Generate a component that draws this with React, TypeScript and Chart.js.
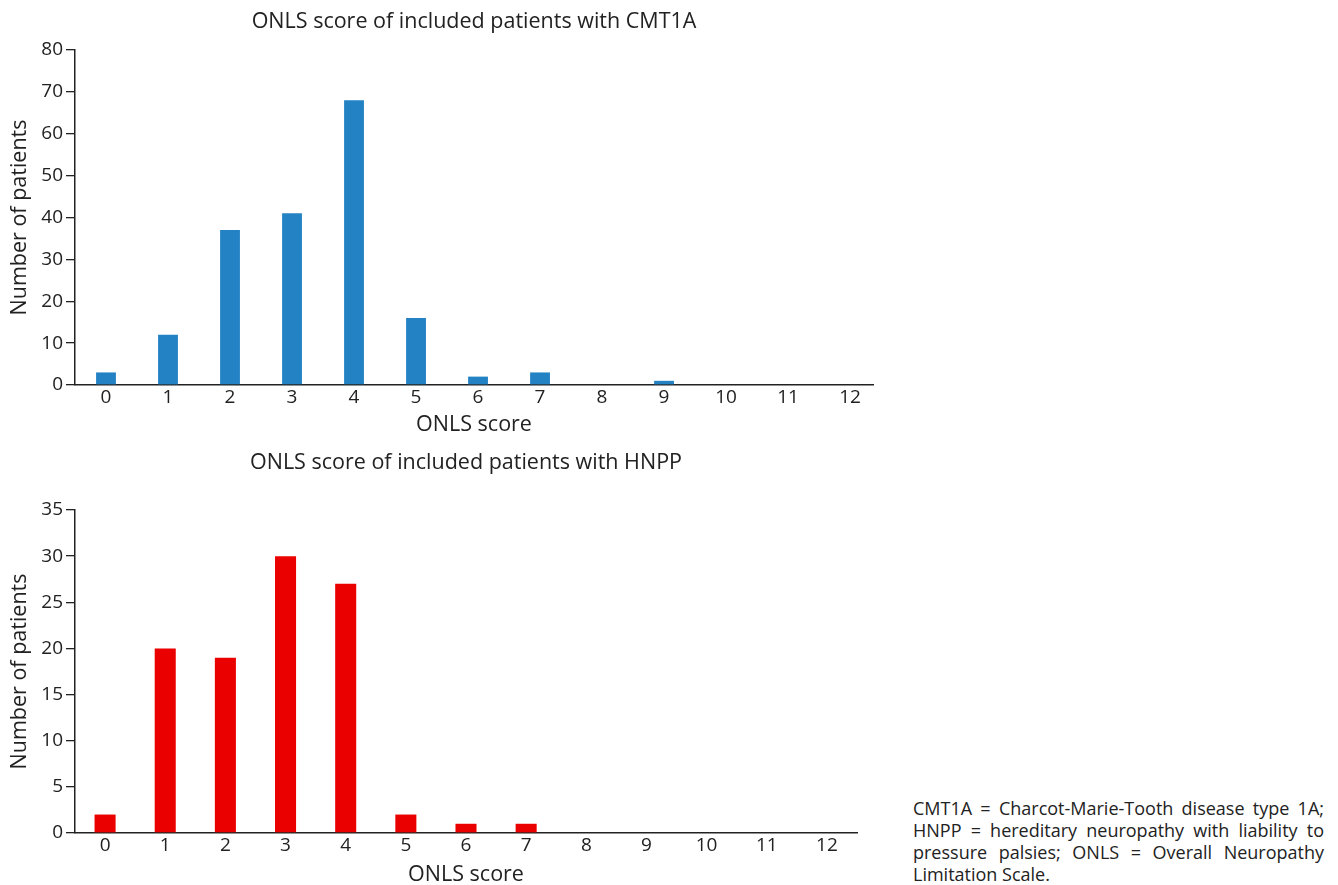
import React, { useEffect, useRef } from "react";
import { Chart, registerables } from "chart.js";

Chart.register(...registerables);

const scoreLabels = ["0", "1", "2", "3", "4", "5", "6", "7", "8", "9", "10", "11", "12"];
const cmt1aCounts = [3, 12, 37, 41, 68, 16, 2, 3, 0, 1, 0, 0, 0];
const hnppCounts = [2, 20, 19, 30, 27, 2, 1, 1, 0, 0, 0, 0, 0];

const cmt1aTitle = "ONLS score of included patients with CMT1A";
const hnppTitle = "ONLS score of included patients with HNPP";
const xAxisTitle = "ONLS score";
const yAxisTitle = "Number of patients";
const footnote =
  "CMT1A = Charcot-Marie-Tooth disease type 1A; HNPP = hereditary neuropathy with liability to pressure palsies; ONLS = Overall Neuropathy Limitation Scale.";

const cmt1aYMax = 80;
const cmt1aYStep = 10;
const hnppYMax = 35;
const hnppYStep = 5;
const scoreMin = -0.5;
const cmt1aScoreMax = 12.37;
const hnppScoreMax = 12.5;

const FONT = "'Open Sans', 'Noto Sans', sans-serif";
const TEXT = "#222222";
const AXIS = "#222222";

type PanelProps = {
  title: string;
  values: number[];
  color: string;
  yMax: number;
  yStep: number;
  xMax: number;
  barPct: number;
  width: number;
  height: number;
  padTop: number;
  padRight: number;
  titleY: number;
  xTitlePad: number;
};

function Panel(p: PanelProps) {
  const ref = useRef<HTMLCanvasElement | null>(null);
  useEffect(() => {
    if (!ref.current) return;
    const titlePlugin = {
      id: "centeredTitle",
      afterDraw(chart: any) {
        const { ctx, chartArea } = chart;
        ctx.save();
        ctx.font = `21.5px ${FONT}`;
        ctx.fillStyle = TEXT;
        ctx.textAlign = "center";
        ctx.textBaseline = "middle";
        ctx.fillText(p.title, (chartArea.left + chartArea.right) / 2, p.titleY);
        ctx.restore();
      },
    };
    const points = p.values.map((v, i) => ({ x: Number(scoreLabels[i]), y: v }));
    const chart = new Chart(ref.current, {
      type: "bar",
      data: {
        datasets: [
          {
            data: points,
            backgroundColor: p.color,
            borderWidth: 0,
            barPercentage: 1,
            categoryPercentage: p.barPct,
          },
        ],
      },
      options: {
        responsive: false,
        animation: false,
        devicePixelRatio: 1,
        layout: { padding: { top: p.padTop, right: p.padRight, left: 0, bottom: 0 } },
        plugins: {
          legend: { display: false },
          tooltip: { enabled: false },
          title: { display: false },
        },
        scales: {
          x: {
            type: "linear",
            min: scoreMin,
            max: p.xMax,
            offset: false,
            grid: { display: false, drawTicks: false },
            border: { display: true, color: AXIS, width: 1.5 },
            ticks: {
              color: TEXT,
              font: { family: FONT, size: 19 },
              padding: 1,
              maxRotation: 0,
              autoSkip: false,
              callback: (v: any) => String(v),
            },
            afterBuildTicks(scale: any) {
              scale.ticks = scoreLabels.map((l) => ({ value: Number(l) }));
            },
            title: {
              display: true,
              text: xAxisTitle,
              color: TEXT,
              font: { family: FONT, size: 21.5 },
              padding: { top: 0, bottom: p.xTitlePad },
            },
            afterFit(scale: any) {
              scale.height = 55;
            },
          },
          y: {
            min: 0,
            max: p.yMax,
            grid: {
              display: true,
              drawOnChartArea: false,
              drawTicks: true,
              tickLength: 9,
              color: AXIS,
              lineWidth: 1.3,
            },
            border: { display: true, color: AXIS, width: 1.5 },
            ticks: {
              stepSize: p.yStep,
              color: TEXT,
              font: { family: FONT, size: 19 },
              padding: 3,
            },
            title: {
              display: true,
              text: yAxisTitle,
              color: TEXT,
              font: { family: FONT, size: 21.5 },
              padding: { top: 7, bottom: 0 },
            },
            afterFit(scale: any) {
              scale.width = 75;
            },
          },
        },
      },
      plugins: [titlePlugin],
    });
    return () => chart.destroy();
  }, []);
  return (
    <canvas
      ref={ref}
      width={p.width}
      height={p.height}
      style={{ width: p.width, height: p.height, display: "block" }}
    />
  );
}

export default function App() {
  return (
    <div
      style={{
        position: "fixed",
        left: 0,
        top: 0,
        width: 1338,
        height: 885,
        background: "#ffffff",
        overflow: "hidden",
        fontFamily: FONT,
      }}
    >
      <div style={{ position: "absolute", left: 0, top: 0 }}>
        <Panel
          title={cmt1aTitle}
          values={cmt1aCounts}
          color="#2382c4"
          yMax={cmt1aYMax}
          yStep={cmt1aYStep}
          xMax={cmt1aScoreMax}
          barPct={0.32}
          width={890}
          height={440}
          padTop={50}
          padRight={17}
          titleY={22}
          xTitlePad={2}
        />
      </div>
      <div style={{ position: "absolute", left: 0, top: 440 }}>
        <Panel
          title={hnppTitle}
          values={hnppCounts}
          color="#eb0000"
          yMax={hnppYMax}
          yStep={hnppYStep}
          xMax={hnppScoreMax}
          barPct={0.35}
          width={880}
          height={448}
          padTop={70}
          padRight={23}
          titleY={23}
          xTitlePad={0}
        />
      </div>
      <div
        style={{
          position: "absolute",
          left: 913,
          top: 797,
          width: 411,
          fontSize: 18,
          lineHeight: "22px",
          color: TEXT,
          textAlign: "justify",
        }}
      >
        {footnote}
      </div>
    </div>
  );
}
